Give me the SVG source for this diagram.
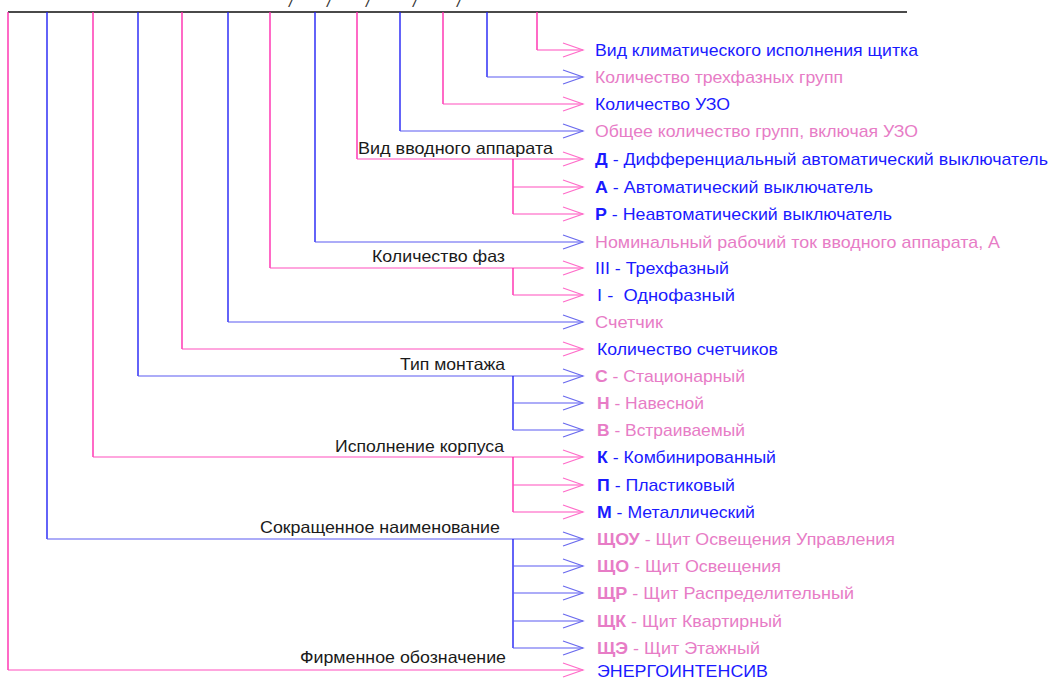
<svg xmlns="http://www.w3.org/2000/svg" width="1050" height="684" viewBox="0 0 1050 684">
<style>
text{font-family:"Liberation Sans",Arial,sans-serif;font-size:17px}
.tb{fill:#1a1aff}
.tp{fill:#e77cc6}
.lab{fill:#1a1a1a;font-size:16.5px}
.b{font-weight:bold}
.lp{stroke:#ff2aae;stroke-width:1.4;fill:none}
.lb{stroke:#2222f5;stroke-width:1.4;fill:none}
.hp{stroke:#ff4fbe;stroke-width:1.2;fill:none}
.hb{stroke:#5a5af2;stroke-width:1.2;fill:none}
.ap{stroke:#ff6cc9;stroke-width:1.2;fill:none}
.ab{stroke:#6a6aee;stroke-width:1.2;fill:none}
.sl{fill:#333;font-style:italic;font-size:16px}
</style>
<defs>
<path id="chev" d="M-20,-7 L0,0 L-20,7"/>
</defs>
<rect width="1050" height="684" fill="#ffffff"/>
<g id="top">
<line x1="8" y1="12" x2="907" y2="12" stroke="#4a4a4a" stroke-width="2"/>
<text class="sl" x="289" y="7">/</text>
<text class="sl" x="327" y="7">/</text>
<text class="sl" x="366" y="7">/</text>
<text class="sl" x="413" y="7">/</text>
<text class="sl" x="457" y="7">/</text>
</g>
<g id="connectors">
<path class="lp" d="M537,12 V50"/><path class="hp" d="M537,50 H583"/>
<path class="lb" d="M487,12 V77"/><path class="hb" d="M487,77 H583"/>
<path class="lp" d="M443,12 V104"/><path class="hp" d="M443,104 H583"/>
<path class="lb" d="M400,12 V131"/><path class="hb" d="M400,131 H583"/>
<path class="lp" d="M357,12 V159"/><path class="hp" d="M357,159 H583"/>
<path class="lp" d="M513,159 V214"/><path class="hp" d="M513,187 H583 M513,214 H583"/>
<path class="lb" d="M315,12 V242"/><path class="hb" d="M315,242 H583"/>
<path class="lp" d="M270,12 V268"/><path class="hp" d="M270,268 H583"/>
<path class="lp" d="M513,268 V295"/><path class="hp" d="M513,295 H583"/>
<path class="lb" d="M228,12 V322"/><path class="hb" d="M228,322 H583"/>
<path class="lp" d="M182,12 V349"/><path class="hp" d="M182,349 H583"/>
<path class="lb" d="M138,12 V376"/><path class="hb" d="M138,376 H583"/>
<path class="lb" d="M513,376 V430"/><path class="hb" d="M513,403 H583 M513,430 H583"/>
<path class="lp" d="M93,12 V457"/><path class="hp" d="M93,457 H583"/>
<path class="lp" d="M513,457 V512"/><path class="hp" d="M513,485 H583 M513,512 H583"/>
<path class="lb" d="M47,12 V539"/><path class="hb" d="M47,539 H583"/>
<path class="lb" d="M513,539 V648"/><path class="hb" d="M513,566 H583 M513,593 H583 M513,621 H583 M513,648 H583"/>
<path class="lp" d="M8,12 V670"/><path class="hp" d="M8,670 H583"/>
<use href="#chev" class="ap" x="583" y="50"/>
<use href="#chev" class="ab" x="583" y="77"/>
<use href="#chev" class="ap" x="583" y="104"/>
<use href="#chev" class="ab" x="583" y="131"/>
<use href="#chev" class="ap" x="583" y="159"/>
<use href="#chev" class="ap" x="583" y="187"/>
<use href="#chev" class="ap" x="583" y="214"/>
<use href="#chev" class="ab" x="583" y="242"/>
<use href="#chev" class="ap" x="583" y="268"/>
<use href="#chev" class="ap" x="583" y="295"/>
<use href="#chev" class="ab" x="583" y="322"/>
<use href="#chev" class="ap" x="583" y="349"/>
<use href="#chev" class="ab" x="583" y="376"/>
<use href="#chev" class="ab" x="583" y="403"/>
<use href="#chev" class="ab" x="583" y="430"/>
<use href="#chev" class="ap" x="583" y="457"/>
<use href="#chev" class="ap" x="583" y="485"/>
<use href="#chev" class="ap" x="583" y="512"/>
<use href="#chev" class="ab" x="583" y="539"/>
<use href="#chev" class="ab" x="583" y="566"/>
<use href="#chev" class="ab" x="583" y="593"/>
<use href="#chev" class="ab" x="583" y="621"/>
<use href="#chev" class="ab" x="583" y="648"/>
<use href="#chev" class="ap" x="583" y="670"/>
</g>
<g id="labels">
<text class="lab" x="358" y="154" textLength="195" lengthAdjust="spacingAndGlyphs">Вид вводного аппарата</text>
<text class="lab" x="372" y="262" textLength="133" lengthAdjust="spacingAndGlyphs">Количество фаз</text>
<text class="lab" x="400" y="370" textLength="105" lengthAdjust="spacingAndGlyphs">Тип монтажа</text>
<text class="lab" x="335" y="452" textLength="169" lengthAdjust="spacingAndGlyphs">Исполнение корпуса</text>
<text class="lab" x="260" y="533" textLength="240" lengthAdjust="spacingAndGlyphs">Сокращенное наименование</text>
<text class="lab" x="300" y="663" textLength="206" lengthAdjust="spacingAndGlyphs">Фирменное обозначение</text>
</g>
<g id="n1"><text class="tb" x="595" y="56" textLength="323" lengthAdjust="spacingAndGlyphs">Вид климатического исполнения щитка</text></g>
<g id="n2"><text class="tp" x="595" y="83" textLength="248" lengthAdjust="spacingAndGlyphs">Количество трехфазных групп</text></g>
<g id="n3"><text class="tb" x="595" y="110" textLength="135" lengthAdjust="spacingAndGlyphs">Количество УЗО</text></g>
<g id="n4"><text class="tp" x="595" y="137" textLength="323" lengthAdjust="spacingAndGlyphs">Общее количество групп, включая УЗО</text></g>
<g id="n5"><text class="tb" x="595" y="165" textLength="453" lengthAdjust="spacingAndGlyphs"><tspan class="b">Д</tspan> - Дифференциальный автоматический выключатель</text></g>
<g id="n6"><text class="tb" x="595" y="193" textLength="278" lengthAdjust="spacingAndGlyphs"><tspan class="b">А</tspan> - Автоматический выключатель</text></g>
<g id="n7"><text class="tb" x="595" y="220" textLength="297" lengthAdjust="spacingAndGlyphs"><tspan class="b">Р</tspan> - Неавтоматический выключатель</text></g>
<g id="n8"><text class="tp" x="595" y="248" textLength="405" lengthAdjust="spacingAndGlyphs">Номинальный рабочий ток вводного аппарата, А</text></g>
<g id="n9"><text class="tb" x="595" y="274" textLength="134" lengthAdjust="spacingAndGlyphs">III - Трехфазный</text></g>
<g id="n10"><text class="tb" x="597" y="301" textLength="138" lengthAdjust="spacingAndGlyphs" xml:space="preserve">I -  Однофазный</text></g>
<g id="n11"><text class="tp" x="595" y="328" textLength="68" lengthAdjust="spacingAndGlyphs">Счетчик</text></g>
<g id="n12"><text class="tb" x="597" y="355" textLength="181" lengthAdjust="spacingAndGlyphs">Количество счетчиков</text></g>
<g id="n13"><text class="tp" x="595" y="382" textLength="150" lengthAdjust="spacingAndGlyphs"><tspan class="b">С</tspan> - Стационарный</text></g>
<g id="n14"><text class="tp" x="597" y="409" textLength="107" lengthAdjust="spacingAndGlyphs"><tspan class="b">Н</tspan> - Навесной</text></g>
<g id="n15"><text class="tp" x="597" y="436" textLength="148" lengthAdjust="spacingAndGlyphs"><tspan class="b">В</tspan> - Встраиваемый</text></g>
<g id="n16"><text class="tb" x="597" y="463" textLength="179" lengthAdjust="spacingAndGlyphs"><tspan class="b">К</tspan> - Комбинированный</text></g>
<g id="n17"><text class="tb" x="597" y="491" textLength="138" lengthAdjust="spacingAndGlyphs"><tspan class="b">П</tspan> - Пластиковый</text></g>
<g id="n18"><text class="tb" x="597" y="518" textLength="158" lengthAdjust="spacingAndGlyphs"><tspan class="b">М</tspan> - Металлический</text></g>
<g id="n19"><text class="tp" x="597" y="545" textLength="298" lengthAdjust="spacingAndGlyphs"><tspan class="b">ЩОУ</tspan> - Щит Освещения Управления</text></g>
<g id="n20"><text class="tp" x="597" y="572" textLength="184" lengthAdjust="spacingAndGlyphs"><tspan class="b">ЩО</tspan> - Щит Освещения</text></g>
<g id="n21"><text class="tp" x="597" y="599" textLength="257" lengthAdjust="spacingAndGlyphs"><tspan class="b">ЩР</tspan> - Щит Распределительный</text></g>
<g id="n22"><text class="tp" x="597" y="627" textLength="185" lengthAdjust="spacingAndGlyphs"><tspan class="b">ЩК</tspan> - Щит Квартирный</text></g>
<g id="n23"><text class="tp" x="597" y="654" textLength="163" lengthAdjust="spacingAndGlyphs"><tspan class="b">ЩЭ</tspan> - Щит Этажный</text></g>
<g id="n24"><text class="tb" x="597" y="677" textLength="171" lengthAdjust="spacingAndGlyphs">ЭНЕРГОИНТЕНСИВ</text></g>
</svg>
